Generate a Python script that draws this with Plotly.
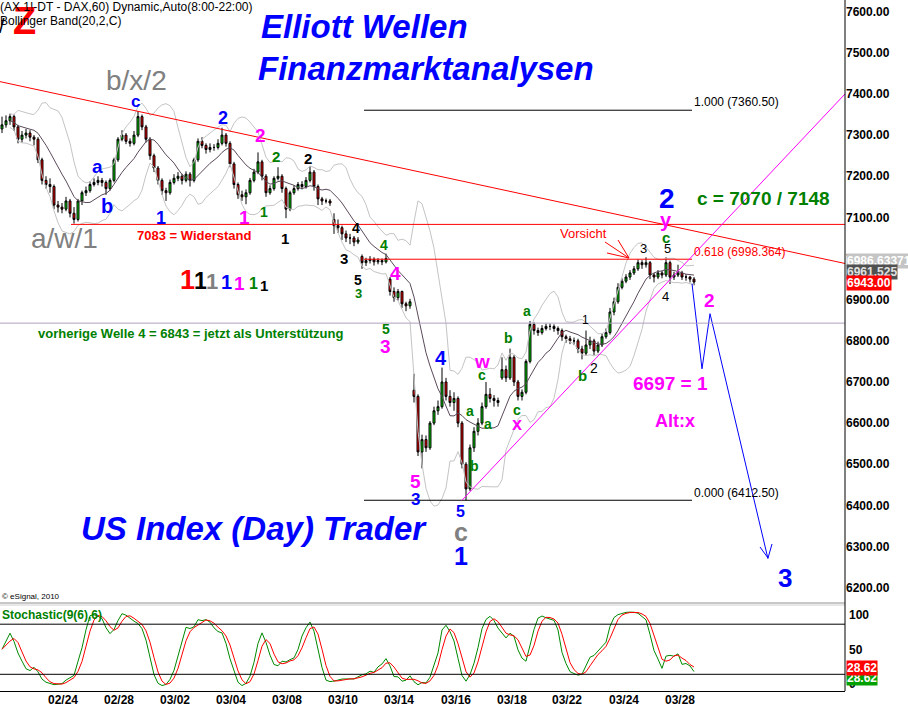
import plotly.graph_objects as go
import pandas as pd

# ---------------- data ----------------
opens = [7315,7325,7335,7345,7320,7290,7300,7305,7295,7290,7240,7190,7180,7175,7130,7125,7120,7140,7110,7095,
         7140,7160,7165,7180,7185,7190,7185,7170,7190,7240,7290,7300,7285,7280,7300,7345,7320,7290,7250,7220,
         7190,7165,7160,7185,7195,7200,7190,7205,7190,7240,7285,7275,7265,7270,7270,7280,7300,7280,7230,7180,
         7155,7150,7160,7190,7210,7235,7200,7160,7170,7195,7200,7170,7120,7160,7170,7180,7175,7190,7210,7175,
         7145,7140,7140,7095,7080,7075,7060,7050,7050,7040,7005,6990,6995,6998,6992,6995,6992,6950,6920,6905,
         6920,6890,6885,6680,6665,6530,6560,6540,6600,6630,6640,6700,6665,6650,6660,6600,6500,6440,6540,6580,
         6600,6640,6670,6660,6655,6710,6730,6710,6760,6700,6665,6675,6750,6840,6825,6820,6830,6835,6835,6830,
         6825,6810,6805,6800,6800,6780,6770,6790,6800,6775,6790,6810,6820,6870,6895,6930,6945,6955,6965,6975,
         6990,6985,6990,6960,6955,6965,6960,6990,6955,6960,6965,6955,6955,6950]
highs = [7345,7348,7352,7350,7325,7310,7315,7312,7300,7295,7245,7200,7195,7180,7140,7135,7150,7145,7125,7145,
         7165,7175,7188,7195,7200,7196,7190,7195,7245,7295,7312,7305,7292,7310,7358,7350,7325,7295,7255,7225,
         7195,7172,7192,7205,7210,7206,7212,7210,7245,7292,7295,7280,7280,7278,7290,7318,7305,7285,7235,7185,
         7165,7168,7196,7218,7258,7240,7205,7178,7200,7222,7205,7175,7165,7178,7186,7188,7198,7225,7215,7180,
         7150,7146,7145,7110,7095,7080,7068,7060,7055,7052,7010,7002,7006,7003,7001,7000,7012,6955,6930,6926,
         6922,6895,6902,6720,6670,6572,6570,6605,6640,6655,6735,6710,6680,6675,6665,6605,6505,6548,6590,6612,
         6650,6700,6685,6668,6662,6760,6740,6781,6765,6705,6682,6755,6848,6845,6832,6838,6842,6842,6840,6835,
         6830,6815,6812,6808,6805,6788,6825,6810,6805,6798,6818,6830,6880,6905,6940,6952,6962,6972,6982,6998,
         6996,7003,6994,6965,6972,6970,7003,6995,6968,6985,6970,6962,6958,6955]
lows =  [7305,7318,7325,7310,7280,7282,7292,7285,7275,7232,7180,7170,7160,7120,7112,7110,7115,7100,7085,7090,
         7130,7152,7160,7175,7178,7175,7155,7165,7185,7235,7285,7278,7272,7275,7295,7312,7282,7240,7210,7180,
         7155,7140,7155,7180,7188,7180,7185,7175,7185,7235,7268,7255,7258,7262,7265,7275,7272,7222,7170,7145,
         7140,7132,7155,7185,7205,7190,7150,7155,7165,7190,7160,7098,7115,7155,7165,7168,7170,7185,7165,7130,
         7130,7134,7128,7060,7062,7045,7040,7035,7030,7035,6975,6982,6988,6983,6986,6984,6988,6910,6895,6898,
         6880,6872,6878,6650,6520,6490,6530,6535,6595,6620,6635,6655,6640,6630,6590,6490,6412,6435,6530,6570,
         6595,6635,6650,6640,6640,6705,6700,6705,6690,6655,6655,6670,6745,6815,6812,6815,6825,6826,6822,6815,
         6800,6795,6792,6790,6770,6755,6765,6780,6765,6770,6785,6805,6815,6862,6890,6925,6940,6948,6960,6970,
         6975,6978,6950,6942,6950,6952,6955,6938,6948,6955,6948,6946,6942,6935]
closes = [7325,7335,7345,7320,7290,7300,7305,7295,7290,7240,7190,7180,7175,7130,7125,7120,7140,7110,7095,7140,
          7160,7165,7180,7185,7190,7185,7170,7190,7240,7290,7300,7285,7280,7300,7345,7320,7290,7250,7220,7190,
          7165,7160,7185,7195,7200,7190,7205,7190,7240,7285,7275,7265,7270,7270,7280,7300,7280,7230,7180,7155,
          7150,7160,7190,7210,7235,7200,7160,7170,7195,7200,7170,7120,7160,7170,7180,7175,7190,7210,7175,7145,
          7140,7140,7135,7080,7075,7060,7050,7050,7040,7045,6990,6995,6998,6992,6995,6992,7000,6920,6905,6920,
          6890,6885,6895,6665,6530,6560,6540,6600,6630,6640,6700,6665,6650,6660,6600,6500,6440,6540,6580,6600,
          6640,6670,6660,6655,6650,6730,6710,6760,6700,6665,6675,6750,6840,6825,6820,6830,6835,6835,6830,6825,
          6810,6805,6800,6800,6780,6770,6790,6800,6775,6790,6810,6820,6870,6895,6930,6945,6955,6965,6975,6990,
          6985,6990,6960,6955,6965,6960,6990,6955,6960,6965,6955,6955,6950,6943]
bar_idx = list(range(len(closes)))

tick_idx = [15.25, 29.25, 43.25, 57.25, 71.25, 85.25, 99.25, 113.5, 127.5, 141.25, 155.5, 169.5]
tick_labels = ["02/24", "02/28", "03/02", "03/04", "03/08", "03/10", "03/14",
               "03/16", "03/18", "03/22", "03/24", "03/28"]
price_ticks = [6200, 6300, 6400, 6500, 6600, 6700, 6800, 6900, 7000, 7100, 7200, 7300, 7400, 7500, 7600]

resistance_level = 7083
support_level = 6843
fib_levels = [7360.50, 6998.364, 6412.50]
fib_labels = ["1.000 (7360.50)", "0.618 (6998.364)", "0.000 (6412.50)"]
down_trend = [7430, 6988]
up_trend = [6412.5, 7400]
proj_x = [172.5, 175.0, 177.0, 191.5]
proj_y = [6939, 6732, 6866, 6270]

# ---------------- geometry helpers ----------------
W, H = 845.0, 691.0       # plot area in pixels
def X(px):                # pixel -> bar index
    return (px - 2) / 4.0
def PX(px):               # pixel -> paper x
    return px / W
def PY(py):               # pixel -> paper y
    return 1 - py / H

FONT = "Arial, Liberation Sans, sans-serif"

# ---------------- indicators (computed from the OHLC data) ----------------
s = pd.Series(closes, dtype=float)
mid = s.rolling(10, min_periods=3).mean()
sd = s.rolling(10, min_periods=3).std(ddof=0)
upper = mid + 2 * sd
lower = mid - 2 * sd
hh = pd.Series(highs, dtype=float).rolling(5, min_periods=1).max()
ll = pd.Series(lows, dtype=float).rolling(5, min_periods=1).min()
k_num = (s - ll).rolling(4, min_periods=1).sum()
k_den = (hh - ll).rolling(4, min_periods=1).sum()
stoch_k = 100 * k_num / k_den
stoch_d = stoch_k.rolling(3, min_periods=1).mean()

fig = go.Figure()
fig.add_trace(go.Scatter(x=bar_idx, y=upper, mode="lines", line=dict(color="#c4c4c4", width=1),
                         hoverinfo="skip", yaxis="y"))
fig.add_trace(go.Scatter(x=bar_idx, y=lower, mode="lines", line=dict(color="#c4c4c4", width=1),
                         hoverinfo="skip", yaxis="y"))
fig.add_trace(go.Scatter(x=bar_idx, y=mid, mode="lines", line=dict(color="#5a4a5a", width=1),
                         hoverinfo="skip", yaxis="y"))
fig.add_trace(go.Candlestick(x=bar_idx, open=opens, high=highs, low=lows, close=closes,
                             increasing=dict(fillcolor="#00dd00", line=dict(color="black", width=1)),
                             decreasing=dict(fillcolor="#ff0000", line=dict(color="black", width=1)),
                             whiskerwidth=0, yaxis="y"))
fig.add_trace(go.Scatter(x=proj_x, y=proj_y, mode="lines", line=dict(color="#0000ff", width=1),
                         hoverinfo="skip", yaxis="y"))
fig.add_trace(go.Scatter(x=bar_idx, y=stoch_k, mode="lines", line=dict(color="#008800", width=1),
                         yaxis="y2"))
fig.add_trace(go.Scatter(x=bar_idx, y=stoch_d, mode="lines", line=dict(color="#ff0000", width=1),
                         yaxis="y2"))

shapes = []
def line(x0, y0, x1, y1, color, width=1, xref="x", yref="y", dash="solid"):
    shapes.append(dict(type="line", x0=x0, y0=y0, x1=x1, y1=y1, xref=xref, yref=yref,
                       line=dict(color=color, width=width, dash=dash), layer="above"))

line(X(0), down_trend[0], X(845), down_trend[1], "#ff0000")
line(X(71), resistance_level, X(845), resistance_level, "#ff0000")
line(X(0), support_level, X(845), support_level, "#b0a0c0")
line(X(364), fib_levels[0], X(692), fib_levels[0], "#000000")
line(X(364), fib_levels[1], X(692), fib_levels[1], "#ff0000")
line(X(364), fib_levels[2], X(692), fib_levels[2], "#000000")
line(X(462), up_trend[0], X(845), up_trend[1], "#ff00ff")
def pline(x0, y0, x1, y1, color, width=1):
    line(PX(x0), PY(y0), PX(x1), PY(y1), color, width, xref="paper", yref="paper")
pline(760, 547, 768, 558, "#0000ff")
pline(772, 544, 768, 558, "#0000ff")
pline(605, 242, 629, 258, "#ff0000")
pline(618, 240, 629, 258, "#ff0000")
pline(607, 253, 629, 258, "#ff0000")
pline(0, 603, 845, 603, "#909090")
pline(0, 605, 845, 605, "#d0d0d0")
pline(845, 0, 845, 691, "#000000")
line(X(0), 80, X(845), 80, "#000000", yref="y2")
line(X(0), 20, X(845), 20, "#000000", yref="y2")

ann = []
def t(text, px, py, size, color, bold=False, italic=False, xanchor="center", bg=None):
    txt = text
    if italic:
        txt = "<i>" + txt + "</i>"
    if bold:
        txt = "<b>" + txt + "</b>"
    d = dict(text=txt, x=PX(px), y=PY(py), xref="paper", yref="paper", showarrow=False,
             xanchor=xanchor, yanchor="middle", font=dict(family=FONT, size=size, color=color))
    if bg:
        d["bgcolor"] = bg
        d["borderpad"] = 0
    ann.append(d)

BLUE, MAG, RED, GRY, BLK, GRN = "#0000ff", "#ff00ff", "#ff0000", "#808080", "#000000", "#008000"

t("Z", 24, 21, 38, RED, bold=True)
t("/", 2, 26, 20, BLK)
t("(AX 1!-DT - DAX,60) Dynamic,Auto(8:00-22:00)", -2, 7, 12, BLK, xanchor="left")
t("Bollinger Band(20,2,C)", -2, 21, 12, BLK, xanchor="left")
t("Elliott Wellen", 364, 26, 33, BLUE, bold=True, italic=True)
t("Finanzmarktanalysen", 426, 68, 33, BLUE, bold=True, italic=True)
t("US Index (Day) Trader", 254, 528, 33, BLUE, bold=True, italic=True)
t("b/x/2", 136, 80, 28, GRY)
t("a/w/1", 64, 238, 28, GRY)
t("7083 = Widerstand", 194, 235, 13, RED, bold=True)
t("vorherige Welle 4 = 6843 = jetzt als Unterstützung", 36, 334, 13, GRN, bold=True, xanchor="left")
t("c = 7070 / 7148", 763, 198, 19, GRN, bold=True)
t("6697 = 1", 670, 383, 19, MAG, bold=True)
t("Alt:x", 675, 421, 18, MAG, bold=True)
t("Vorsicht", 583, 233, 13, RED)
for lab, lv, py in zip(fib_labels, fib_levels, [102, 252, 493]):
    t(lab, 692, py, 12, RED if "0.618" in lab else BLK, xanchor="left")

waves = [
    ("c", 135, 101, 17, BLUE, True), ("2", 223, 118, 18, BLUE, True), ("2", 260, 135, 19, MAG, True),
    ("2", 276, 157, 15, GRN, True), ("2", 308, 158, 15, BLK, True),
    ("a", 97, 167, 19, BLUE, True), ("b", 107, 206, 20, BLUE, True), ("1", 161, 218, 18, BLUE, True),
    ("1", 245, 217, 19, MAG, True), ("1", 264, 212, 14, GRN, True), ("1", 285, 238, 15, BLK, True),
    ("4", 356, 228, 14, BLK, True), ("3", 344, 258, 15, BLK, True), ("4", 384, 245, 14, GRN, True),
    ("5", 358, 280, 14, BLK, True), ("3", 358, 293, 13, GRN, True), ("4", 395, 273, 19, MAG, True),
    ("5", 386, 329, 14, GRN, True), ("3", 385, 346, 19, MAG, True),
    ("4", 441, 358, 20, BLUE, True), ("5", 415, 482, 19, MAG, True), ("3", 415, 499, 17, BLUE, True),
    ("5", 461, 511, 16, BLUE, True), ("c", 461, 532, 25, GRY, True), ("1", 461, 556, 25, BLUE, True),
    ("w", 482, 361, 19, MAG, True), ("c", 482, 375, 14, GRN, True), ("a", 470, 411, 14, GRN, True),
    ("a", 488, 424, 14, GRN, True), ("b", 474, 466, 14, GRN, True), ("b", 508, 338, 14, GRN, True),
    ("c", 517, 410, 14, GRN, True), ("x", 517, 424, 18, MAG, True), ("a", 527, 311, 14, GRN, True),
    ("1", 585, 320, 12, BLK, False), ("b", 582, 375, 15, GRN, True), ("2", 594, 368, 14, BLK, False),
    ("3", 643, 249, 13, BLK, False), ("5", 667, 249, 13, BLK, False), ("c", 666, 237, 15, GRN, True),
    ("y", 666, 220, 20, MAG, True), ("2", 667, 199, 28, BLUE, True), ("4", 665, 296, 13, BLK, False),
    ("2", 709, 300, 19, MAG, True), ("3", 785, 578, 26, BLUE, True),
]
for w in waves:
    t(w[0], w[1], w[2], w[3], w[4], bold=w[5])

ones = [(187, 280, 27, RED), (200, 281, 23, BLK), (212, 281, 22, GRY), (226, 282, 20, BLUE),
        (239, 283, 19, MAG), (253, 284, 16, GRN), (264, 285, 15, BLK)]
for ox, oy, osz, oc in ones:
    t("1", ox, oy, osz, oc, bold=True)

t("Stochastic(9(6),6)", 0, 615, 12, GRN, bold=True, xanchor="left")
t("\u00a9 eSignal, 2010", 0, 596, 8, BLK, xanchor="left")

t("6986.63371", 846, 261, 12, "#ffffff", bold=True, xanchor="left", bg="#c4c4c4")
t("6961.525", 846, 272, 12, "#e0e0e0", bold=True, xanchor="left", bg="#505050")
t("6943.00", 846, 283, 12, "#ffffff", bold=True, xanchor="left", bg="#ff0000")
for lab, py in [("100", 615), ("50", 650), ("0", 684)]:
    t(lab, 847, py, 12, BLK, bold=True, xanchor="left")
t("28.62", 846, 678, 12, "#ffffff", bold=True, xanchor="left", bg="#00a000")
t("28.62", 846, 668, 12, "#ffffff", bold=True, xanchor="left", bg="#ff0000")

fig.update_layout(
    width=908, height=707,
    margin=dict(l=0, r=63, t=0, b=16, autoexpand=False),
    paper_bgcolor="white", plot_bgcolor="white",
    showlegend=False,
    xaxis=dict(range=[X(0), X(845)], anchor="y2", tickvals=tick_idx, ticktext=tick_labels,
               showgrid=False, zeroline=False, showline=True, linecolor="black", linewidth=1,
               ticks="", ticklabelstandoff=-2, rangeslider=dict(visible=False),
               tickfont=dict(family=FONT, size=12, color="black", weight="bold")),
    yaxis=dict(domain=[1 - 603 / H, 1], range=[6162.8, 7628.4], side="right", anchor="x",
               tickvals=price_ticks, ticktext=["%.2f" % v for v in price_ticks],
               showgrid=False, zeroline=False, showline=False, ticks="", ticklabelstandoff=0,
               tickfont=dict(family=FONT, size=12, color="black", weight="bold")),
    yaxis2=dict(domain=[0, 1 - 605 / H], range=[0, 103], side="right", anchor="x",
                showgrid=False, zeroline=False, showline=False, showticklabels=False, ticks=""),
    shapes=shapes, annotations=ann,
)
fig.write_html("out.html", config={"displayModeBar": False},
               post_script="document.body.style.margin='0px';document.body.style.overflow='hidden';")
